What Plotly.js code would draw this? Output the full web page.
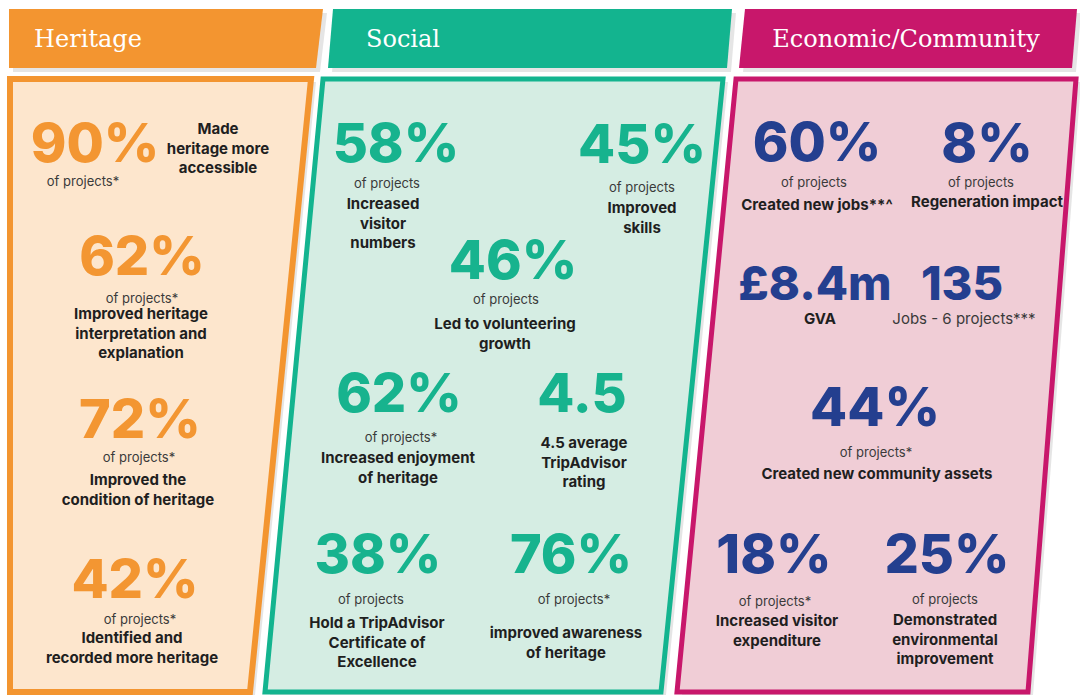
<!DOCTYPE html>
<html><head><meta charset="utf-8">
<script src="https://cdn.plot.ly/plotly-3.0.1.min.js"></script>
<style>html,body{margin:0;padding:0;background:#fff;overflow:hidden;} #chart{width:1080px;height:695px;}</style>
</head><body><div id="chart"></div>
<script>
// ---------- data ----------
const sections = ['Heritage', 'Social', 'Economic/Community'];

const heritageValues = ['90%', '62%', '72%', '42%'];
const heritageNotes = ['of projects*', 'of projects*', 'of projects*', 'of projects*'];
const heritageLabels = ['Made<br>heritage more<br>accessible', 'Improved heritage<br>interpretation and<br>explanation', 'Improved the<br>condition of heritage', 'Identified and<br>recorded more heritage'];

const socialValues = ['58%', '45%', '46%', '62%', '4.5', '38%', '76%'];
const socialNotes = ['of projects', 'of projects', 'of projects', 'of projects*', '', 'of projects', 'of projects*'];
const socialLabels = ['Increased<br>visitor<br>numbers', 'Improved<br>skills', 'Led to volunteering<br>growth', 'Increased enjoyment<br>of heritage', '4.5 average<br>TripAdvisor<br>rating', 'Hold a TripAdvisor<br>Certificate of<br>Excellence', 'improved awareness<br>of heritage'];

const economicValues = ['60%', '8%', '£8.4m', '135', '44%', '18%', '25%'];
const economicNotes = ['of projects', 'of projects', '', 'Jobs - 6 projects***', 'of projects*', 'of projects*', 'of projects'];
const economicLabels = ['Created new jobs**^', 'Regeneration impact', 'GVA', '', 'Created new community assets', 'Increased visitor<br>expenditure', 'Demonstrated<br>environmental<br>improvement'];

// ---------- layout (positions / styles) ----------
const heritagePos = {
  value: [[95,144],[142,257],[140,420],[135,580]],
  note:  [[83,182],[142,299],[139,458],[140,620]],
  label: [[218,149],[141,334],[138,490],[132,648]]
};
const socialPos = {
  value: [[396,144],[642,145],[513,261],[399,394],[582,394],[378,555],[571,555]],
  note:  [[387,184],[642,188],[506,299.5],[401,438],null,[371,600],[574,600]],
  label: [[383,224],[642,218],[505,334],[398,468],[584,463],[377,643],[566,643]]
};
const economicPos = {
  value: [[817,143],[987,144],[815,284],[962,284],[875,408],[774,555],[947,555]],
  note:  [[814,182.5],[981,183],null,[964,319],[876,453],[775,602],[945,600]],
  label: [[817,205],[987,202],[820,319],null,[877,474],[777,631],[945,640]]
};
const VALUE_SIZE = 54;
const valueSizes = {economic: [54,54,47,47,54,54,54]};
const noteSizes = {economic: [13,13,13,15,13,13,13]};
const VALUE_DY = 4, LABEL_DY = 1, NOTE_DY = 1, HEAD_DY = 3;

const colors = {
  heritage: {main:'#f39530', text:'#f39632', fill:'#fde6cd'},
  social: {main:'#13b48f', text:'#17b38e', fill:'#d5ede3'},
  economic: {main:'#c8176b', text:'#243f8f', fill:'#f0cdd6'}
};
const FONT = 'Inter, "Open Sans", sans-serif';

const traces = [];
function addGroup(values, notes, labels, pos, col, vSizes, nSizes) {
  traces.push({
    type:'scatter', mode:'text', hoverinfo:'skip', showlegend:false,
    x: pos.value.map(p=>p[0]), y: pos.value.map(p=>p[1] + VALUE_DY), text: values,
    textposition:'middle center',
    textfont:{family:FONT, size: vSizes || VALUE_SIZE, color: col, weight: 800}
  });
  const nx=[], ny=[], nt=[], ns=[];
  notes.forEach((n,i)=>{ if(n && pos.note[i]){ nx.push(pos.note[i][0]); ny.push(pos.note[i][1] + NOTE_DY); nt.push(n); ns.push(nSizes ? nSizes[i] : 13);} });
  traces.push({
    type:'scatter', mode:'text', hoverinfo:'skip', showlegend:false,
    x:nx, y:ny, text:nt, textposition:'middle center',
    textfont:{family:FONT, size: ns, color:'#3a3a3a', weight: 400}
  });
  const lx=[], ly=[], lt=[];
  labels.forEach((l,i)=>{
    if(!l || !pos.label[i]) return;
    lx.push(pos.label[i][0]); ly.push(pos.label[i][1] + LABEL_DY); lt.push(l);
  });
  traces.push({
    type:'scatter', mode:'text', hoverinfo:'skip', showlegend:false,
    x:lx, y:ly, text:lt, textposition:'middle center',
    textfont:{family:FONT, size:15, color:'#1f1f1f', weight: 700}
  });
}
addGroup(heritageValues, heritageNotes, heritageLabels, heritagePos, colors.heritage.text);
addGroup(socialValues, socialNotes, socialLabels, socialPos, colors.social.text);
addGroup(economicValues, economicNotes, economicLabels, economicPos, colors.economic.text, valueSizes.economic, noteSizes.economic);

traces.push({
  type:'scatter', mode:'text', hoverinfo:'skip', showlegend:false,
  x:[88, 403, 906], y:[38 + HEAD_DY, 38 + HEAD_DY, 38 + HEAD_DY], text: sections, textposition:'middle center',
  textfont:{family:'"DejaVu Serif", serif', size:24, color:'#ffffff', weight: 400}
});

const headerPaths = [
  'M9,9 L323,9 L316,68 L9,68 Z',
  'M333,9 L732,9 L727,68 L328,68 Z',
  'M745,9 L1077,9 L1072,68 L739,68 Z'
];
const panelPaths = [
  'M10,79 L311,79 L250,692 L10,692 Z',
  'M323,79 L723,79 L661,692 L265,692 Z',
  'M736,79 L1076,79 L1028,692 L677,692 Z'
];
const keys = ['heritage','social','economic'];
const shift = (p, dx, dy) => p.replace(/(\d+(?:\.\d+)?),(\d+(?:\.\d+)?)/g, (m,a,b)=>(+a+dx)+','+(+b+dy));
const shapes = [];
keys.forEach((k,i)=>{
  shapes.push({type:'path', xref:'x', yref:'y', path: shift(headerPaths[i],4,4), fillcolor:'rgba(0,0,0,0.10)', line:{width:0}, layer:'below'});
  shapes.push({type:'path', xref:'x', yref:'y', path: shift(panelPaths[i],5,3), fillcolor:'rgba(0,0,0,0.10)', line:{width:0}, layer:'below'});
});
keys.forEach((k,i)=>{
  shapes.push({type:'path', xref:'x', yref:'y', path: headerPaths[i], fillcolor: colors[k].main, line:{width:0}, layer:'below'});
  shapes.push({type:'path', xref:'x', yref:'y', path: panelPaths[i], fillcolor: colors[k].fill, line:{width: i===0?6:5, color: colors[k].main}, layer:'below'});
});

const layout = {
  width:1080, height:695,
  margin:{l:0, r:0, t:0, b:0, pad:0},
  paper_bgcolor:'#ffffff', plot_bgcolor:'#ffffff',
  xaxis:{range:[0,1080], visible:false, fixedrange:true},
  yaxis:{range:[695,0], visible:false, fixedrange:true},
  shapes: shapes,
  showlegend:false
};
Plotly.newPlot('chart', traces, layout, {staticPlot:true, displayModeBar:false});
</script>
</body></html>
